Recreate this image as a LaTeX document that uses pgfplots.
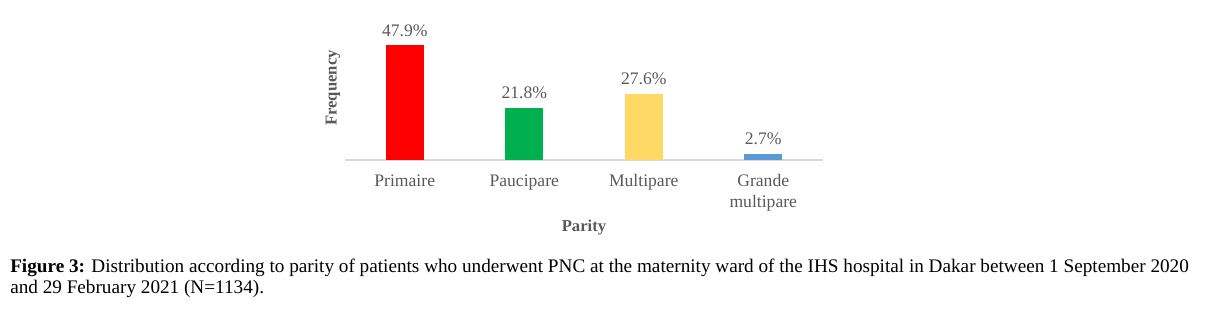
\documentclass[border=0pt]{standalone}
\usepackage{pgfplots}
\pgfplotsset{compat=1.18}
\usepackage{fontspec}
\setmainfont{Liberation Serif}
\definecolor{txtgray}{HTML}{595959}
\definecolor{axgray}{HTML}{D9D9D9}
\definecolor{cred}{HTML}{FF0000}
\definecolor{cgreen}{HTML}{00B050}
\definecolor{cyellow}{HTML}{FFD966}
\definecolor{cblue}{HTML}{5B9BD5}
\begin{document}
\begin{tikzpicture}[x=0.75pt,y=0.75pt]
\path[use as bounding box] (0,0) rectangle (1211,311);
\begin{axis}[
  at={(258.75pt,113.25pt)}, anchor=south west,
  scale only axis, width=358.5pt, height=90pt,
  xmin=-0.5, xmax=3.5, ymin=0, ymax=50,
  /pgf/number format/assume math mode=true,
  axis lines*=left,
  y axis line style={draw=none},
  x axis line style={draw=axgray, line width=0.9pt},
  ytick=\empty,
  xtick={0,1,2,3},
  xticklabels={Primaire,Paucipare,Multipare,Grande\\multipare},
  xtick style={draw=none},
  x tick label style={font=\fontsize{13.2}{15.5}\selectfont, text=txtgray, align=center, yshift=-3pt},
  ybar, bar width=28.5pt,
  nodes near coords={\pgfmathprintnumber[fixed,precision=1,fixed zerofill,assume math mode=true]{\pgfplotspointmeta}\%},
  nodes near coords style={font=\fontsize{13.2}{15}\selectfont, text=txtgray, yshift=3pt},
  xlabel={Parity}, ylabel={Frequency},
  xlabel style={at={(axis description cs:0.5,0)}, anchor=center, yshift=-51pt, font=\fontsize{12.5}{14}\selectfont\bfseries, text=txtgray},
  ylabel style={at={(axis description cs:-0.025,0.6)}, anchor=center, font=\fontsize{12.5}{14}\selectfont\bfseries, text=txtgray},
  clip=false,
]
\addplot[fill=cred, draw=none, bar shift=0pt] coordinates {(0,47.9)};
\addplot[fill=cgreen, draw=none, bar shift=0pt] coordinates {(1,21.8)};
\addplot[fill=cyellow, draw=none, bar shift=0pt] coordinates {(2,27.6)};
\addplot[fill=cblue, draw=none, bar shift=0pt] coordinates {(3,2.7)};
\end{axis}
\node[anchor=base west, inner sep=0pt, font=\fontsize{14.4}{15}\selectfont] at (10,311-272.7) {\textbf{Figure 3:} Distribution according to parity of patients who underwent PNC at the maternity ward of the IHS hospital in Dakar between 1 September 2020};
\node[anchor=base west, inner sep=0pt, font=\fontsize{14.4}{15}\selectfont] at (10,311-293) {and 29 February 2021 (N=1134).};
\end{tikzpicture}
\end{document}
